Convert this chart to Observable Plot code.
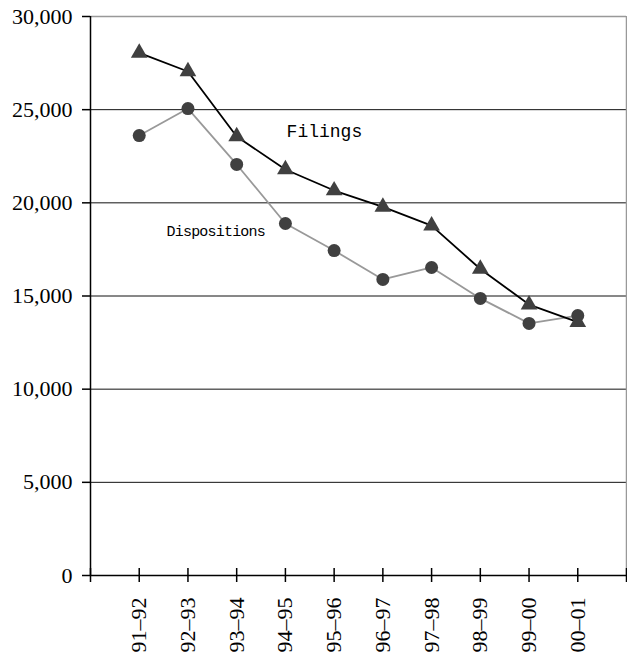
<!DOCTYPE html>
<html>
<head>
<meta charset="utf-8">
<script src="https://cdn.jsdelivr.net/npm/d3@7"></script>
<script src="https://cdn.jsdelivr.net/npm/@observablehq/plot@0.6"></script>
<style>
  html, body { margin: 0; padding: 0; background: #fff; }
  #chart { width: 627px; height: 663px; }
  #chart svg text { font-family: "Liberation Serif", "Times New Roman", serif; }
  #chart svg text.mono { font-family: "Liberation Mono", "Courier New", monospace; }
  #chart svg text.tight { letter-spacing: -0.8px; }
</style>
</head>
<body>
<div id="chart"></div>
<script>
// Fiscal years (categories)
const years = ["91–92","92–93","93–94","94–95","95–96","96–97","97–98","98–99","99–00","00–01"];
// Series values
const filings = [28050, 27050, 23560, 21790, 20660, 19780, 18780, 16450, 14540, 13600];
const dispositions = [23610, 25060, 22060, 18890, 17440, 15890, 16530, 14870, 13530, 13950];
// Y tick values
const yTicks = [0, 5000, 10000, 15000, 20000, 25000, 30000];
// Series label annotations
const seriesLabels = ["Filings", "Dispositions"];
const labelX = [4.8, 2.57];
const labelY = [23850, 18500];

const filingsData = years.map((y, i) => ({i: i + 1, v: filings[i]}));
const dispData = years.map((y, i) => ({i: i + 1, v: dispositions[i]}));
const labelData = seriesLabels.map((s, k) => ({s, x: labelX[k], y: labelY[k]}));
const xTicks = d3.range(0, years.length + 2);

const serif = "Liberation Serif";

const chart = Plot.plot({
  width: 627,
  height: 663,
  marginLeft: 90,
  marginRight: 1,
  marginTop: 16,
  marginBottom: 88,
  style: {fontFamily: serif, fontSize: "22px", color: "#000", background: "#fff"},
  x: {type: "linear", domain: [0, years.length + 1]},
  y: {domain: [0, 30000]},
  marks: [
    Plot.ruleY(yTicks.filter(d => d > 0 && d < 30000), {stroke: "#111", strokeWidth: 1}),
    Plot.ruleY([30000], {stroke: "#999", strokeWidth: 1.5}),
    Plot.ruleX([years.length + 1], {stroke: "#999", strokeWidth: 1.5}),
    Plot.axisY({ticks: yTicks, tickSize: 8, tickPadding: 10, tickFormat: d3.format(","), fontSize: 22, fontFamily: serif, strokeWidth: 1.5}),
    Plot.ruleX([0], {stroke: "#000", strokeWidth: 1.5}),
    Plot.axisX({ticks: xTicks, tickSize: 7, tickPadding: 15, tickRotate: -90,
      tickFormat: d => (d >= 1 && d <= years.length) ? years[d - 1] : "", fontSize: 22, fontFamily: serif, strokeWidth: 1.5}),
    Plot.axisX({ticks: xTicks, tickSize: -7, tickFormat: () => "", strokeWidth: 1.5}),
    Plot.ruleY([0], {stroke: "#000", strokeWidth: 1.5}),
    Plot.line(dispData, {x: "i", y: "v", stroke: "#999", strokeWidth: 1.8}),
    Plot.line(filingsData, {x: "i", y: "v", stroke: "#000", strokeWidth: 1.8}),
    Plot.dot(dispData, {x: "i", y: "v", r: 6.5, fill: "#404040", stroke: "none"}),
    Plot.dot(filingsData, {x: "i", y: "v", r: 6.2, symbol: "triangle", fill: "#404040", stroke: "none"}),
    Plot.text(labelData.slice(0, 1), {x: "x", y: "y", text: "s", fontSize: 18, fill: "#000"}),
    Plot.text(labelData.slice(1), {x: "x", y: "y", text: "s", fontSize: 15, fill: "#000"})
  ]
});
chart.querySelectorAll("g[aria-label='text'] text").forEach(t => {
  t.setAttribute("class", t.textContent === "Dispositions" ? "mono tight" : "mono");
});
document.getElementById("chart").appendChild(chart);
</script>
</body>
</html>
